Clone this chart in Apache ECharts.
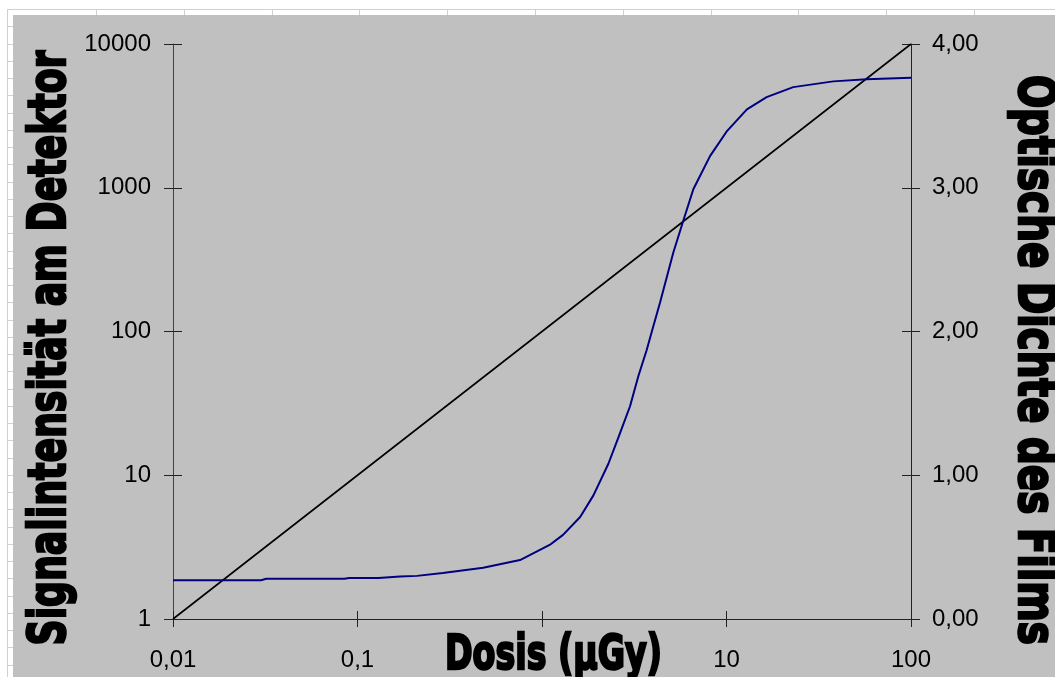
<!DOCTYPE html>
<html>
<head>
<meta charset="utf-8">
<script src="https://cdn.jsdelivr.net/npm/echarts@6/dist/echarts.min.js"></script>
<style>html,body{margin:0;padding:0;background:#fff;}#c{width:1055px;height:677px;}</style>
</head>
<body>
<div id="c"></div>
<script>
// ---- data ----
const detDose = [0.01, 0.1, 1, 10, 100];
const detSignal = [1, 10, 100, 1000, 10000];
const filmDose = [0.01, 0.03, 0.032, 0.085, 0.09, 0.13, 0.17, 0.21, 0.29, 0.48, 0.76, 1.10, 1.30, 1.61, 1.90, 2.29, 2.59, 3.00, 3.33, 3.69, 3.96, 4.36, 5.15, 5.83, 6.61, 8.14, 10.0, 12.9, 16.5, 23.0, 37.9, 57.5, 100];
const filmOD = [0.27, 0.27, 0.28, 0.28, 0.285, 0.285, 0.295, 0.30, 0.32, 0.357, 0.41, 0.515, 0.585, 0.71, 0.86, 1.08, 1.26, 1.48, 1.69, 1.87, 2.01, 2.20, 2.55, 2.77, 2.99, 3.22, 3.39, 3.545, 3.63, 3.70, 3.74, 3.755, 3.765];
const xTitle = 'Dosis (µGy)';
const yLeftTitle = 'Signalintensität am Detektor';
const yRightTitle = 'Optische Dichte des Films';

const labelFont = {fontFamily: "'Liberation Sans', Arial, sans-serif", fontSize: 24, color: '#000'};
const titleFamily = "'DejaVu Sans', sans-serif";

function logLabel(v) {
  if (Math.abs(v - 1) < 1e-9) return '';
  return String(+(+v).toPrecision(6)).replace('.', ',');
}

// measure text to condense the heavy titles to the reference length
const mctx = document.createElement('canvas').getContext('2d');
function textWidth(t, size) {
  mctx.font = 'bold ' + size + 'px ' + titleFamily;
  return mctx.measureText(t).width;
}
function titleEl(text, size, cx, cy, rot, targetLen) {
  const w = textWidth(text, size);
  return {
    type: 'text', x: cx, y: cy, rotation: rot, scaleX: targetLen / w, scaleY: 1, silent: true, z: 10,
    style: {text: text, fontFamily: titleFamily, fontWeight: 'bold', fontSize: size, fill: '#000',
      stroke: '#000', lineWidth: 2.6, align: 'center', verticalAlign: 'middle'}
  };
}

// decorative page grid (spreadsheet cells)
const deco = [];
deco.push({type: 'rect', shape: {x: 0, y: 0, width: 1055, height: 15}, style: {fill: '#fff'}, silent: true});
deco.push({type: 'rect', shape: {x: 0, y: 0, width: 13, height: 677}, style: {fill: '#fff'}, silent: true});
deco.push({type: 'line', shape: {x1: 7.5, y1: 9.5, x2: 7.5, y2: 677}, style: {stroke: '#d0d0d0', lineWidth: 1}, silent: true});
deco.push({type: 'line', shape: {x1: 7.5, y1: 9.5, x2: 1055, y2: 9.5}, style: {stroke: '#d0d0d0', lineWidth: 1}, silent: true});
for (let y = 9 + 17.25; y < 677; y += 17.25) {
  const yy = Math.round(y) + 0.5;
  deco.push({type: 'line', shape: {x1: 7.5, y1: yy, x2: 13, y2: yy}, style: {stroke: '#d0d0d0', lineWidth: 1}, silent: true});
}
for (let x = 96; x < 1055; x += 87.8) {
  const xx = Math.round(x) + 0.5;
  deco.push({type: 'line', shape: {x1: xx, y1: 9.5, x2: xx, y2: 15}, style: {stroke: '#d0d0d0', lineWidth: 1}, silent: true});
}
deco.push(titleEl(xTitle, 48, 553.5, 657, 0, 217));
deco.push(titleEl(yLeftTitle, 52, 51, 348, Math.PI / 2, 595));
deco.push(titleEl(yRightTitle, 52, 1033, 360, -Math.PI / 2, 570));

const chart = echarts.init(document.getElementById('c'), null, {renderer: 'canvas'});
chart.setOption({
  animation: false,
  backgroundColor: '#c0c0c0',
  graphic: {elements: deco},
  grid: {left: 173, right: 144, top: 44, bottom: 58, containLabel: false, outerBoundsMode: 'none'},
  xAxis: [
    {
      type: 'log', logBase: 10, min: 0.01, max: 100,
      axisLine: {show: true, lineStyle: {color: '#222', width: 1}},
      axisTick: {show: true, inside: false, length: 8, lineStyle: {color: '#222'}},
      axisLabel: {...labelFont, margin: 29, formatter: logLabel},
      splitLine: {show: false}
    },
    {
      type: 'log', logBase: 10, min: 0.01, max: 100, position: 'bottom',
      axisLine: {show: false},
      axisTick: {show: true, inside: true, length: 8, lineStyle: {color: '#222'}},
      axisLabel: {show: false}, splitLine: {show: false}
    }
  ],
  yAxis: [
    {
      type: 'log', logBase: 10, min: 1, max: 10000, position: 'left',
      axisLine: {show: true, lineStyle: {color: '#444', width: 1}},
      axisTick: {show: true, inside: false, length: 9, lineStyle: {color: '#222'}},
      axisLabel: {...labelFont, margin: 22, formatter: v => String(Math.round(v))},
      splitLine: {show: false}
    },
    {
      type: 'value', min: 0, max: 4, interval: 1, position: 'right',
      axisLine: {show: true, lineStyle: {color: '#222', width: 1}},
      axisTick: {show: true, inside: false, length: 9, lineStyle: {color: '#222'}},
      axisLabel: {...labelFont, margin: 21, formatter: v => v.toFixed(2).replace('.', ',')},
      splitLine: {show: false}
    },
    {
      type: 'log', logBase: 10, min: 1, max: 10000, position: 'left', offset: 0,
      axisLine: {show: false},
      axisTick: {show: true, inside: true, length: 9, lineStyle: {color: '#222'}},
      axisLabel: {show: false}, splitLine: {show: false}
    },
    {
      type: 'value', min: 0, max: 4, interval: 1, position: 'right', offset: 0,
      axisLine: {show: false},
      axisTick: {show: true, inside: true, length: 9, lineStyle: {color: '#222'}},
      axisLabel: {show: false}, splitLine: {show: false}
    }
  ],
  series: [
    {
      name: 'Detektor', type: 'line', xAxisIndex: 0, yAxisIndex: 0,
      data: detDose.map((d, i) => [d, detSignal[i]]),
      showSymbol: false, lineStyle: {color: '#000', width: 1.6}, z: 3
    },
    {
      name: 'Film', type: 'line', xAxisIndex: 0, yAxisIndex: 1,
      data: filmDose.map((d, i) => [d, filmOD[i]]),
      showSymbol: false,
      lineStyle: {color: '#000080', width: 2}, z: 4
    }
  ]
});
</script>
</body>
</html>
